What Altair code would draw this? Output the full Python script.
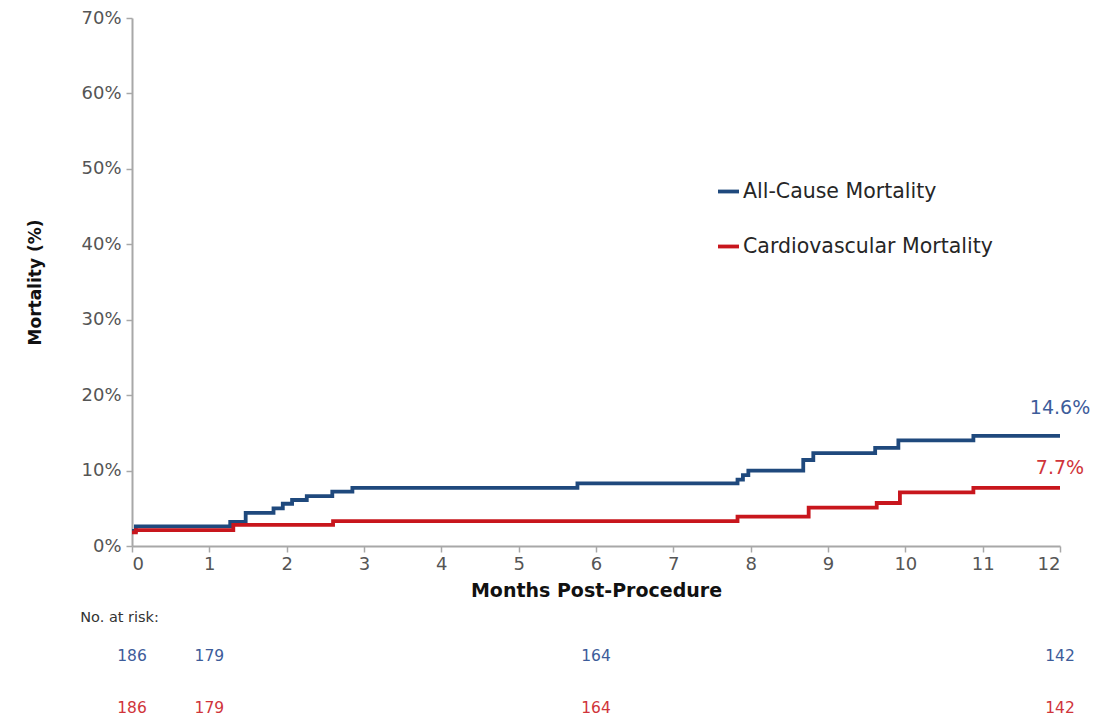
import altair as alt
import pandas as pd

# ---- data ----
series_names = ["All-Cause Mortality", "Cardiovascular Mortality"]
series_colors = ["#1f497d", "#c8161d"]
label_colors = ["#3d5c9a", "#d0343a"]

months_all = [0, 0.05, 1.27, 1.47, 1.83, 1.95, 2.07, 2.26, 2.59, 2.85, 5.76,
              7.83, 7.90, 7.97, 8.68, 8.81, 9.61, 9.91, 10.88, 12]
mort_all = [2.0, 2.6, 3.2, 4.4, 5.0, 5.6, 6.1, 6.6, 7.2, 7.7, 8.3,
            8.8, 9.4, 10.0, 11.4, 12.3, 13.0, 14.0, 14.6, 14.6]

months_cv = [0, 0.05, 1.31, 2.60, 7.83, 8.75, 9.63, 9.93, 10.88, 12]
mort_cv = [1.8, 2.1, 2.8, 3.3, 3.9, 5.1, 5.7, 7.1, 7.7, 7.7]

end_labels = ["14.6%", "7.7%"]

risk_months = [0, 1, 6, 12]
risk_all = [186, 179, 164, 142]
risk_cv = [186, 179, 164, 142]

x_ticks = list(range(0, 13))
y_ticks = [0, 10, 20, 30, 40, 50, 60, 70]

FONT = "DejaVu Sans"

# ---- tables ----
curves = pd.concat([
    pd.DataFrame({"month": months_all, "mortality": mort_all, "series": series_names[0]}),
    pd.DataFrame({"month": months_cv, "mortality": mort_cv, "series": series_names[1]}),
], ignore_index=True)

ends = pd.DataFrame({
    "month": [months_all[-1], months_cv[-1]],
    "mortality": [mort_all[-1], mort_cv[-1]],
    "series": series_names,
    "label": end_labels,
})

risk = pd.concat([
    pd.DataFrame({"month": risk_months, "n": risk_all, "series": series_names[0]}),
    pd.DataFrame({"month": risk_months, "n": risk_cv, "series": series_names[1]}),
], ignore_index=True)

x_scale = alt.Scale(domain=[0, 12], nice=False, zero=False)
y_scale = alt.Scale(domain=[0, 70], nice=False)
color_scale = alt.Scale(domain=series_names, range=series_colors)
label_color_scale = alt.Scale(domain=series_names, range=label_colors)

x_enc = alt.X("month:Q", scale=x_scale, axis=alt.Axis(
    values=x_ticks, format="d", title="Months Post-Procedure", labelPadding=3,
    titlePadding=8, titleFontSize=19))
y_enc = alt.Y("mortality:Q", scale=y_scale, axis=alt.Axis(
    values=y_ticks, labelExpr="datum.value + '%'", title="Mortality (%)",
    labelPadding=5, titlePadding=36, titleFontSize=17))

lines = alt.Chart(curves).mark_line(interpolate="step-after", strokeWidth=3.8).encode(
    x=x_enc,
    y=y_enc,
    color=alt.Color("series:N", scale=color_scale, legend=alt.Legend(
        orient="none", legendX=584, legendY=161, title=None, symbolType="stroke",
        symbolStrokeWidth=3.8, symbolSize=440, labelFontSize=20.5, labelColor="#262626",
        labelFont=FONT, rowPadding=32, labelOffset=2, labelLimit=0,
        direction="vertical")),
)

end_all = alt.Chart(ends).transform_filter(
    alt.datum.series == series_names[0]
).mark_text(fontSize=19, dy=-28, align="center", font=FONT).encode(
    x=alt.X("month:Q", scale=x_scale),
    y=alt.Y("mortality:Q", scale=y_scale),
    text="label:N",
    color=alt.Color("series:N", scale=label_color_scale, legend=None),
)
end_cv = alt.Chart(ends).transform_filter(
    alt.datum.series == series_names[1]
).mark_text(fontSize=19, dy=-20, align="center", font=FONT).encode(
    x=alt.X("month:Q", scale=x_scale),
    y=alt.Y("mortality:Q", scale=y_scale),
    text="label:N",
    color=alt.Color("series:N", scale=label_color_scale, legend=None),
)

main = alt.layer(lines, end_all, end_cv).resolve_scale(color="independent").properties(
    width=928, height=528)

risk_chart = alt.Chart(risk).mark_text(fontSize=15.5, font=FONT).encode(
    x=alt.X("month:Q", scale=x_scale, axis=None),
    y=alt.Y("series:N", scale=alt.Scale(domain=series_names, type="point", padding=0.096),
            axis=None),
    text="n:Q",
    color=alt.Color("series:N", scale=label_color_scale, legend=None),
).properties(
    width=928, height=62,
    title=alt.TitleParams("No. at risk:", anchor="start", dx=-37, fontSize=14.5,
                          fontWeight="normal", color="#333333", font=FONT, offset=23),
)

chart = alt.vconcat(main, risk_chart, spacing=105, bounds="flush").resolve_scale(
    color="independent"
).properties(
    padding={"left": 26, "top": 9, "right": 0, "bottom": 0},
).configure_view(stroke=None).configure_axis(
    grid=False, domainColor="#a8a8a8", domainWidth=2, tickColor="#a8a8a8",
    tickSize=6, tickWidth=1.5, labelColor="#555555", labelFontSize=18, labelFont=FONT,
    titleFontWeight="bold", titleColor="#111111", titleFont=FONT,
)

chart.save("out.html", embed_options={"renderer": "svg", "actions": False})
